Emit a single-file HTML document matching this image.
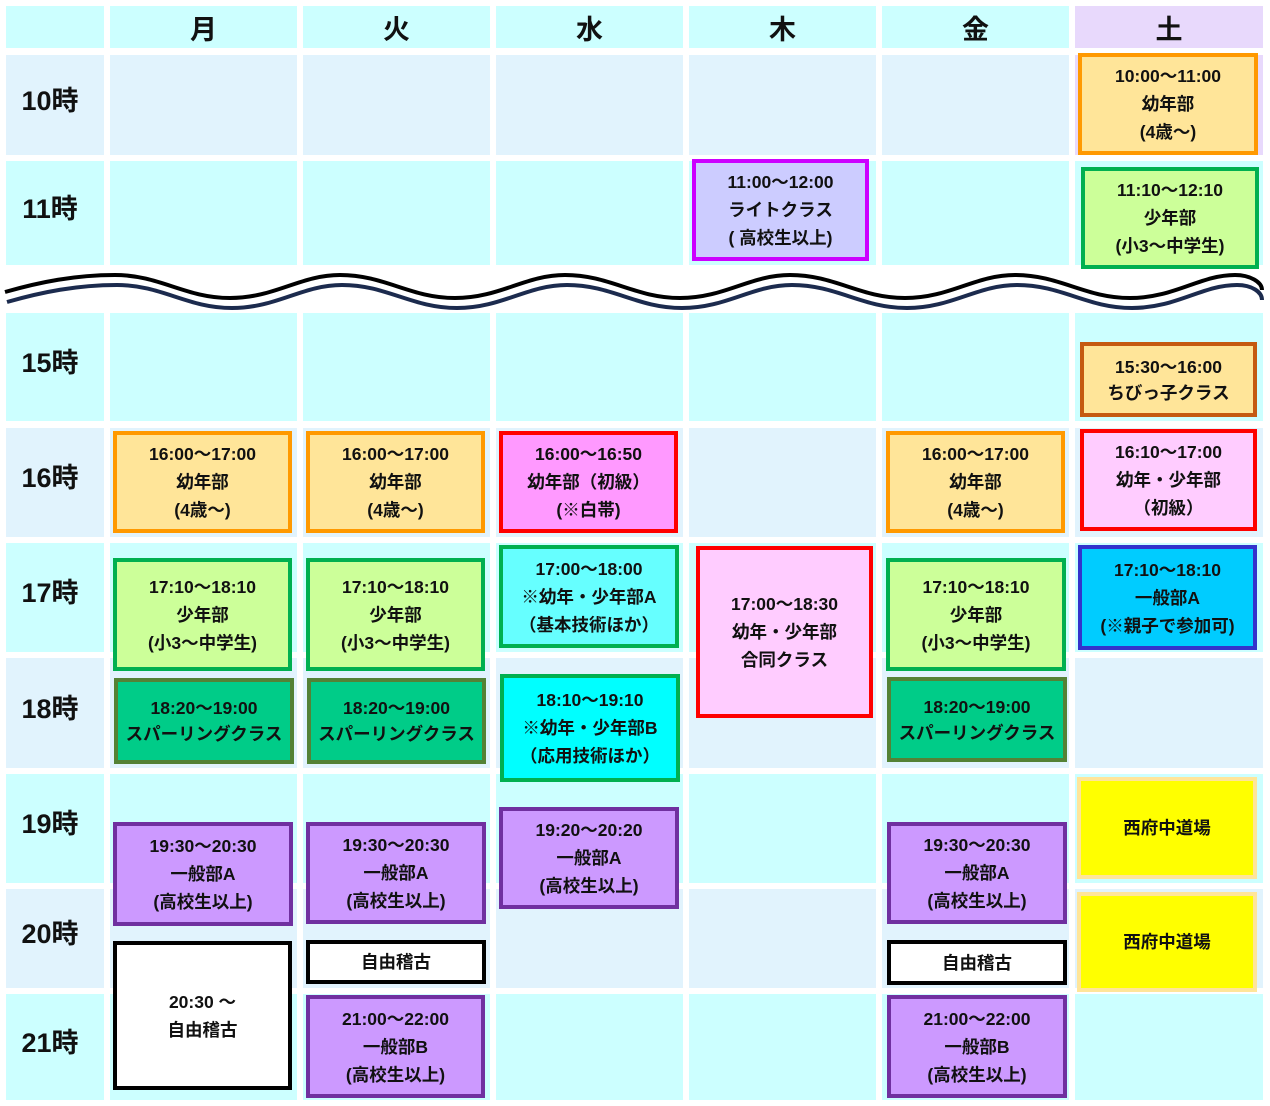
<!DOCTYPE html>
<html><head><meta charset="utf-8"><style>
body{margin:0;width:1270px;height:1106px;background:#fff;position:relative;overflow:hidden;font-family:"Liberation Sans","Noto Sans CJK JP",sans-serif;font-weight:bold;color:#111}
.c{position:absolute}
.h{position:absolute;display:flex;align-items:center;justify-content:center;font-size:27px}
.t{position:absolute;font-size:27px;left:4px;width:92px;display:flex;align-items:center;justify-content:center;box-sizing:border-box;padding-bottom:14px}
.b{position:absolute;box-sizing:border-box;border:4px solid;display:flex;align-items:center;justify-content:center;text-align:center;font-size:17.5px;line-height:28px}
</style></head><body>
<div class="c" style="left:6px;top:6px;width:98px;height:42px;background:#ccffff"></div>
<div class="h" style="left:110px;top:6px;width:187px;height:42px;background:#ccffff">月</div>
<div class="h" style="left:303px;top:6px;width:187px;height:42px;background:#ccffff">火</div>
<div class="h" style="left:496px;top:6px;width:187px;height:42px;background:#ccffff">水</div>
<div class="h" style="left:689px;top:6px;width:187px;height:42px;background:#ccffff">木</div>
<div class="h" style="left:882px;top:6px;width:187px;height:42px;background:#ccffff">金</div>
<div class="h" style="left:1075px;top:6px;width:188px;height:42px;background:#e8d9fc">土</div>
<div id="g"></div>
<script>
var cols=[[6,98],[110,187],[303,187],[496,187],[689,187],[882,187],[1075,188]];
var rows=[[55,100,'10時','#e1f3fd'],[161,104,'11時','#ccffff'],[313,108,'15時','#ccffff'],[428,109,'16時','#e1f3fd'],[543,109,'17時','#ccffff'],[658,110,'18時','#e1f3fd'],[774,109,'19時','#ccffff'],[889,99,'20時','#e1f3fd'],[994,106,'21時','#ccffff']];
var h='';
rows.forEach(function(r,i){cols.forEach(function(c,j){var bg=r[3];if(j==6&&i==0)bg='#e8d9fc';
h+='<div class="c" style="left:'+c[0]+'px;top:'+r[0]+'px;width:'+c[1]+'px;height:'+r[1]+'px;background:'+bg+'"></div>';});
h+='<div class="t" style="top:'+r[0]+'px;height:'+r[1]+'px">'+r[2]+'</div>';});
document.getElementById('g').outerHTML=h;
</script>
<svg class="c" style="left:0;top:260px" width="1270" height="60">
<path d="M5,32 C40,22 75,15 115,15 C160,15 185,38 230,38 C275,38 300,15 340,15 C385,15 410,38 455,38 C500,38 525,15 565,15 C610,15 635,38 680,38 C725,38 750,15 790,15 C835,15 860,38 905,38 C950,38 975,15 1015,15 C1060,15 1085,38 1130,38 C1175,38 1200,15 1235,15 C1250,15 1262,22 1262,30" fill="none" stroke="#000" stroke-width="4"/>
<path d="M7,42 C42,32 77,25 117,25 C162,25 187,48 232,48 C277,48 302,25 342,25 C387,25 412,48 457,48 C502,48 527,25 567,25 C612,25 637,48 682,48 C727,48 752,25 792,25 C837,25 862,48 907,48 C952,48 977,25 1017,25 C1062,25 1087,48 1132,48 C1177,48 1202,25 1237,25 C1252,25 1262,32 1262,40" fill="none" stroke="#1c2b4e" stroke-width="4"/>
</svg>
<div class="b" style="left:1078px;top:53px;width:180px;height:102px;border-color:#ff9900;background:#ffe599">10:00〜11:00<br>幼年部<br>(4歳〜)</div>
<div class="b" style="left:692px;top:159px;width:177px;height:102px;border-color:#cc00ff;background:#ccccff">11:00〜12:00<br>ライトクラス<br>( 高校生以上)</div>
<div class="b" style="left:1081px;top:167px;width:178px;height:102px;border-color:#00b050;background:#ccff99">11:10〜12:10<br>少年部<br>(小3〜中学生)</div>
<div class="b" style="left:1080px;top:342px;width:177px;height:75px;border-color:#c55a11;background:#ffe599;line-height:26px">15:30〜16:00<br>ちびっ子クラス</div>

<div class="b" style="left:113px;top:431px;width:179px;height:102px;border-color:#ff9900;background:#ffe599">16:00〜17:00<br>幼年部<br>(4歳〜)</div>
<div class="b" style="left:306px;top:431px;width:179px;height:102px;border-color:#ff9900;background:#ffe599">16:00〜17:00<br>幼年部<br>(4歳〜)</div>
<div class="b" style="left:499px;top:431px;width:179px;height:102px;border-color:#ff0000;background:#ff99ff">16:00〜16:50<br>幼年部（初級）<br>(※白帯)</div>
<div class="b" style="left:886px;top:431px;width:179px;height:102px;border-color:#ff9900;background:#ffe599">16:00〜17:00<br>幼年部<br>(4歳〜)</div>
<div class="b" style="left:1080px;top:429px;width:177px;height:102px;border-color:#ff0000;background:#ffccff">16:10〜17:00<br>幼年・少年部<br>（初級）</div>

<div class="b" style="left:113px;top:558px;width:179px;height:113px;border-color:#00b050;background:#ccff99">17:10〜18:10<br>少年部<br>(小3〜中学生)</div>
<div class="b" style="left:306px;top:558px;width:179px;height:113px;border-color:#00b050;background:#ccff99">17:10〜18:10<br>少年部<br>(小3〜中学生)</div>
<div class="b" style="left:499px;top:545px;width:180px;height:103px;border-color:#00b050;background:#66ffff">17:00〜18:00<br>※幼年・少年部A<br>（基本技術ほか）</div>
<div class="b" style="left:696px;top:546px;width:177px;height:172px;border-color:#ff0000;background:#ffccff">17:00〜18:30<br>幼年・少年部<br>合同クラス</div>
<div class="b" style="left:886px;top:558px;width:180px;height:113px;border-color:#00b050;background:#ccff99">17:10〜18:10<br>少年部<br>(小3〜中学生)</div>
<div class="b" style="left:1078px;top:545px;width:179px;height:105px;border-color:#3333cc;background:#00ccff">17:10〜18:10<br>一般部A<br>(※親子で参加可)</div>

<div class="b" style="left:114px;top:678px;width:180px;height:86px;border-color:#548235;background:#00cc88;line-height:26px">18:20〜19:00<br>スパーリングクラス</div>
<div class="b" style="left:307px;top:678px;width:179px;height:86px;border-color:#548235;background:#00cc88;line-height:26px">18:20〜19:00<br>スパーリングクラス</div>
<div class="b" style="left:500px;top:674px;width:180px;height:108px;border-color:#00b050;background:#00ffff">18:10〜19:10<br>※幼年・少年部B<br>（応用技術ほか）</div>
<div class="b" style="left:887px;top:677px;width:180px;height:85px;border-color:#548235;background:#00cc88;line-height:26px">18:20〜19:00<br>スパーリングクラス</div>

<div class="b" style="left:113px;top:822px;width:180px;height:104px;border-color:#7030a0;background:#cc99ff">19:30〜20:30<br>一般部A<br>(高校生以上)</div>
<div class="b" style="left:306px;top:822px;width:180px;height:102px;border-color:#7030a0;background:#cc99ff">19:30〜20:30<br>一般部A<br>(高校生以上)</div>
<div class="b" style="left:499px;top:807px;width:180px;height:102px;border-color:#7030a0;background:#cc99ff">19:20〜20:20<br>一般部A<br>(高校生以上)</div>
<div class="b" style="left:887px;top:822px;width:180px;height:102px;border-color:#7030a0;background:#cc99ff">19:30〜20:30<br>一般部A<br>(高校生以上)</div>
<div class="b" style="left:1077px;top:777px;width:180px;height:102px;border-color:#ffe599;background:#ffff00">西府中道場</div>
<div class="b" style="left:1077px;top:892px;width:180px;height:100px;border-color:#ffe599;background:#ffff00">西府中道場</div>

<div class="b" style="left:113px;top:941px;width:179px;height:149px;border-color:#000;background:#fff">20:30 〜<br>自由稽古</div>
<div class="b" style="left:306px;top:940px;width:180px;height:44px;border-color:#000;background:#fff">自由稽古</div>
<div class="b" style="left:887px;top:940px;width:180px;height:45px;border-color:#000;background:#fff">自由稽古</div>

<div class="b" style="left:306px;top:995px;width:179px;height:103px;border-color:#7030a0;background:#cc99ff">21:00〜22:00<br>一般部B<br>(高校生以上)</div>
<div class="b" style="left:887px;top:995px;width:180px;height:103px;border-color:#7030a0;background:#cc99ff">21:00〜22:00<br>一般部B<br>(高校生以上)</div>
</body></html>
